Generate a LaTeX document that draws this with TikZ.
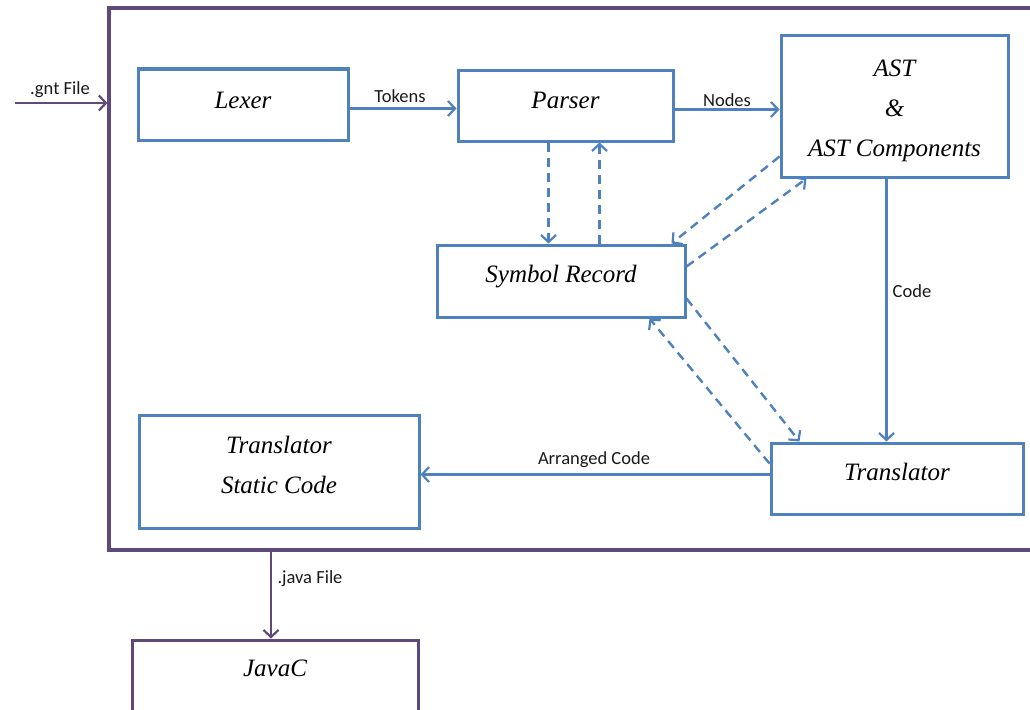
\documentclass[tikz,border=0pt]{standalone}
\usepackage{fontspec}
\setmainfont{Liberation Serif}
\newfontfamily\labfont{Carlito}
\usetikzlibrary{arrows.meta}
\definecolor{bluec}{HTML}{4F81BD}
\definecolor{purplec}{HTML}{5F497A}
\begin{document}
\begin{tikzpicture}[x=1pt,y=-1pt,
  box/.style={draw=bluec, line width=3pt, fill=white, inner sep=0pt},
  pbox/.style={draw=purplec, line width=3pt, fill=white, inner sep=0pt},
  btext/.style={font=\fontsize{25}{40}\selectfont\itshape, align=center},
  lab/.style={font=\labfont\fontsize{18.5}{22}\selectfont, text=black!90, inner sep=0pt},
  flow/.style={draw=bluec, line width=2.4pt, -{Straight Barb[length=7pt,width=15pt,line width=2.2pt]}},
  dflow/.style={flow, dash pattern=on 9pt off 6pt},
  pflow/.style={draw=purplec, line width=2.5pt, -{Straight Barb[length=7pt,width=15pt,line width=2.2pt]}}]
\useasboundingbox (0,0) rectangle (1030,709);
% outer frame
\node[draw=purplec, line width=3.2pt, minimum width=936pt, minimum height=542pt, inner sep=0pt] (frame) at (577,279) {};
% boxes
\node[box, minimum width=210pt, minimum height=71pt, label={[btext, yshift=4pt]center:Lexer}] (lex) at (243,104.5) {};
\node[box, minimum width=215pt, minimum height=71pt, label={[btext, yshift=5pt]center:Parser}] (par) at (565.5,105.5) {};
\node[box, minimum width=227pt, minimum height=141pt, label={[btext, yshift=-4pt]center:AST\\\&\\AST Components}] (ast) at (894.5,106.5) {};
\node[box, minimum width=248pt, minimum height=72pt, label={[btext, yshift=4pt]center:Symbol Record}] (sym) at (561,281) {};
\node[box, minimum width=280pt, minimum height=113pt, label={[btext, yshift=7pt]center:Translator\\Static Code}] (tsc) at (279,471.5) {};
\node[box, minimum width=252pt, minimum height=71pt, label={[btext, yshift=7pt]center:Translator}] (tr) at (897,478.5) {};
\node[pbox, minimum width=286pt, minimum height=130pt] (javac) at (275,705) {};
\node[btext] (javactext) at (275,668) {JavaC};
% connectors
\coordinate (gnt) at (15,103);
\draw[pflow] (gnt) -- (gnt -| frame.west);
\node[lab] (gntl) at (60,90) {.gnt File};
\draw[flow] ([yshift=-4pt]lex.east) -- ([yshift=-4pt]lex.east -| par.west);
\node[lab] (tokl) at (400,96) {Tokens};
\draw[flow] ([yshift=-4pt]par.east) -- ([yshift=-4pt]par.east -| ast.west);
\node[lab] (nodl) at (727,100) {Nodes};
\draw[dflow] ([xshift=-17pt]par.south) -- ([xshift=-17pt]par.south |- sym.north);
\draw[dflow] ([xshift=34pt]par.south |- sym.north) -- ([xshift=34pt]par.south);
\draw[dflow] ([yshift=22pt]ast.south west) -- ([xshift=-15pt]sym.north east);
\draw[dflow] ([yshift=-23pt]sym.north east) -- ([xshift=27pt]ast.south west);
\draw[dflow] ([yshift=20pt]sym.south east) -- ([xshift=30pt]tr.north west);
\draw[dflow] ([yshift=-22pt]tr.north west) -- ([xshift=-37pt]sym.south east);
\draw[flow] ([xshift=-8pt]ast.south) -- ([xshift=-8pt]ast.south |- tr.north);
\node[lab] (codel) at (912,291) {Code};
\draw[flow] ([yshift=4pt]tr.west) -- ([yshift=4pt]tr.west -| tsc.east);
\node[lab] (arrl) at (594,460) {Arranged Code};
\draw[pflow] ([xshift=-4pt]javac.north |- frame.south) -- ([xshift=-4pt]javac.north);
\node[lab] (javal) at (310,579) {.java File};
\end{tikzpicture}
\end{document}
